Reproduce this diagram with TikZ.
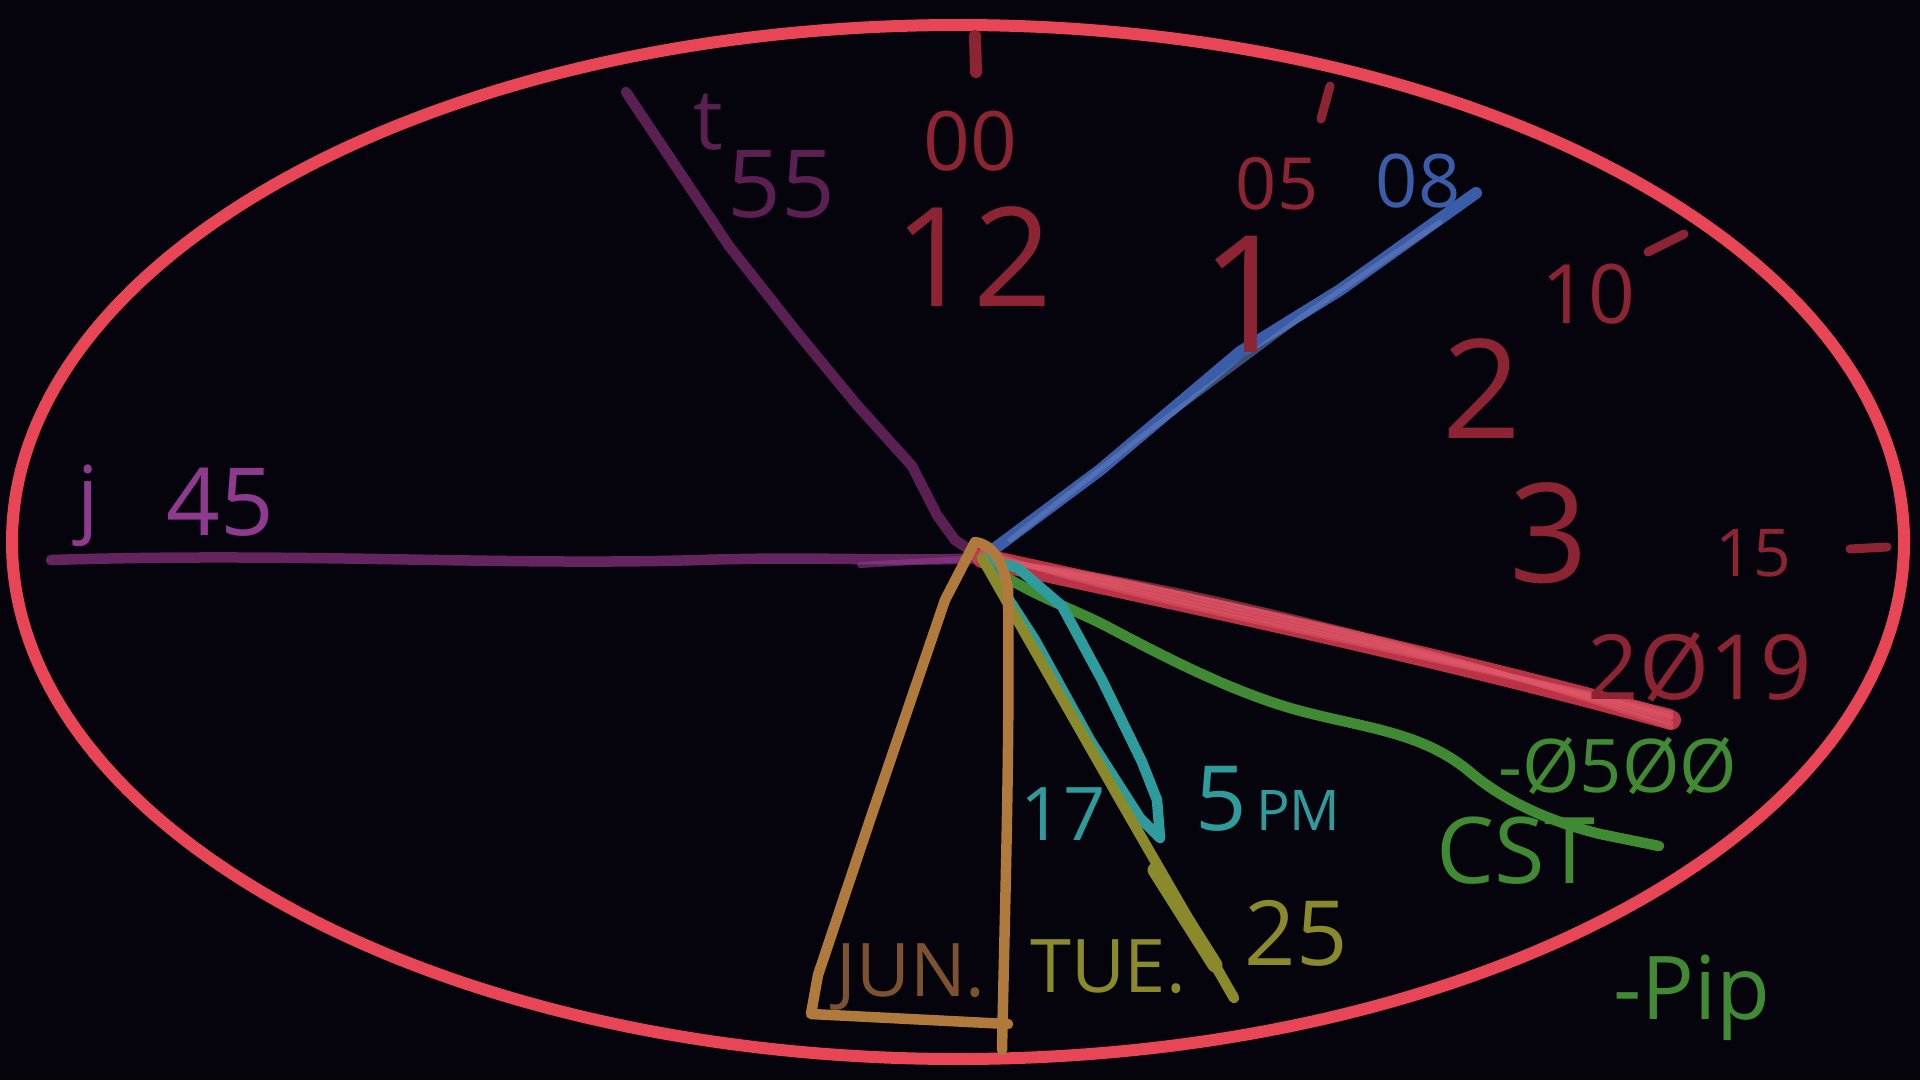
\documentclass[tikz,border=0pt]{standalone}
\usepackage{fontspec}
\setmainfont{Open Sans}
\definecolor{bg}{HTML}{05040C}
\definecolor{ring}{HTML}{E84656}
\definecolor{dred}{HTML}{8C2433}
\definecolor{brush}{HTML}{D93B50}
\definecolor{dpurple}{HTML}{5A2052}
\definecolor{lpurple}{HTML}{8E3A8E}
\definecolor{blueh}{HTML}{3B5CA8}
\definecolor{greenh}{HTML}{3F8A32}
\definecolor{tealh}{HTML}{2E9C9C}
\definecolor{oliveh}{HTML}{8A8A2C}
\definecolor{tanh}{HTML}{B07A3C}
\definecolor{brownt}{HTML}{7C5232}
\tikzset{
  hand/.style={line width=10.5pt, line cap=round, line join=round},
  lbl/.style={inner sep=0pt, anchor=center},
  fs/.style={font=\fontsize{#1}{#1}\selectfont},
}
\begin{document}
\begin{tikzpicture}[x=1pt,y=-1pt]
\fill[bg] (0,0) rectangle (1920,1080);
\useasboundingbox (0,0) rectangle (1920,1080);
% outer ring
\draw[ring, line width=12pt] (958,542) ellipse [x radius=946, y radius=517];
% hub
\coordinate (hub) at (982,558);
% tick marks
\coordinate (tk1a) at (975,36); \coordinate (tk1b) at (976,72);
\coordinate (tk2a) at (1330,86); \coordinate (tk2b) at (1321,119);
\coordinate (tk3a) at (1648,252); \coordinate (tk3b) at (1684,234);
\coordinate (tk4a) at (1850,549); \coordinate (tk4b) at (1887,547);
\draw[dred, hand, line width=12pt] (tk1a) -- (tk1b);
\draw[dred, hand, line width=9pt] (tk2a) -- (tk2b);
\draw[dred, hand, line width=9pt] (tk3a) -- (tk3b);
\draw[dred, hand, line width=9pt] (tk4a) -- (tk4b);
% purple horizontal hand
\coordinate (pl) at (51,560);
\draw[dpurple!80!lpurple, hand] (pl) .. controls (300,552) and (500,566) .. (700,560) .. controls (820,556) and (900,562) .. (hub);
\draw[lpurple, hand, line width=6pt, opacity=0.6] (860,565) -- (hub);
% purple angled hand
\coordinate (pt) at (626,92);
\draw[dpurple, hand] (pt) -- (729,246) -- (796,331) -- (857,405) -- (912,466) -- (937,515) -- (955,540) -- (hub);
% blue hand
\coordinate (bt) at (1476,193);
\draw[blueh, hand, line width=12pt] (hub) -- (1100,470) -- (1240,352) -- (1340,290) -- (bt);
\draw[blueh!80!white, hand, line width=5pt, opacity=0.6] (1010,540) -- (1150,430) -- (1300,318) -- (1440,222);
% red brush hand
\coordinate (rt) at (1671,720);
\draw[brush, hand, line width=20pt, opacity=0.85] (hub) .. controls (1100,585) and (1400,645) .. (rt);
\foreach \a/\b/\op in {-10/-7/0.5,-4/-3/0.6,4/3/0.6,12/6/0.5,18/9/0.4,24/2/0.3}{
  \draw[brush!85!white, hand, line width=5pt, opacity=\op] ([yshift=\a*0.4]hub) .. controls (1100,575+\a) and (1400,642+\b) .. ([yshift=\b]rt);
}
% green hand
\coordinate (gt) at (1659,846);
\draw[greenh, hand] (hub) -- (1004,576) .. controls (1040,598) and (1080,612) .. (1110,628) .. controls (1170,660) and (1230,690) .. (1290,708) .. controls (1360,728) and (1420,730) .. (1470,772) .. controls (1510,806) and (1560,824) .. (1600,834) -- (gt);
% teal loop
\coordinate (tb) at (1160,838);
\draw[tealh, hand] (hub) -- (1035,640) -- (1090,740) -- (1140,818) -- (tb) -- (1157,800) -- (1142,762) -- (1102,680) -- (1062,606) -- (1018,568) -- (hub);
% olive hand
\coordinate (ob) at (1234,998);
\draw[oliveh, hand] (hub) -- (1120,800) -- (ob);
\draw[oliveh, hand, line width=15pt] (1155,870) -- (1215,965);
% tan month box
\coordinate (ta) at (975,542);
\coordinate (tbl) at (811,1014);
\coordinate (tbr) at (1008,1024);
\coordinate (ttr) at (1008,588);
\coordinate (tend) at (1002,1050);
\draw[tanh, hand] (ttr) .. controls (1003,565) and (995,545) .. (ta) -- (945,600) -- (870,820) -- (818,975) -- (tbl) -- (tbr);
\draw[tanh, hand] (ttr) .. controls (1010,750) and (1005,900) .. (tend);
% labels
\node[lbl, dred, fs=138] (n12) at (973,257) {12};
\node[lbl, dred, fs=163] (n1) at (1247,294) {1};
\node[lbl, dred, fs=138] (n2) at (1482,389) {2};
\node[lbl, dred, fs=138] (n3) at (1549,533) {3};
\node[lbl, dred, fs=82] (n00) at (970,141) {00};
\node[lbl, dred, fs=72] (n05) at (1277,184) {05};
\node[lbl, blueh, fs=74] (n08) at (1418,181) {08};
\node[lbl, dred, fs=82] (n10) at (1588,294) {10};
\node[lbl, dred, fs=66] (n15) at (1753,553) {15};
\node[lbl, dred, fs=90] (n2019) at (1700,667) {2Ø19};
\node[lbl, greenh, fs=74] (n0500) at (1618,766) {-Ø5ØØ};
\node[lbl, greenh, fs=92] (ncst) at (1516,851) {CST};
\node[lbl, greenh, fs=88] (npip) at (1692,998) {-Pip};
\node[lbl, oliveh, fs=90] (n25) at (1296,933) {25};
\node[lbl, oliveh, fs=74] (ntue) at (1108,967) {TUE.};
\node[lbl, brownt, fs=74] (njun) at (911,977) {JUN.};
\node[lbl, tealh, fs=74] (n17) at (1063,814) {17};
\node[lbl, tealh, fs=90, anchor=base west] (n5pm) at (1195,830) {5\fontsize{56}{56}\selectfont\,PM};
\node[lbl, lpurple, fs=94] (n45) at (220,502) {45};
\node[lbl, lpurple, fs=84] (nj) at (88,506) {j};
\node[lbl, dpurple, fs=84] (nt) at (708,122) {t};
\node[lbl, dpurple, fs=94] (n55) at (781,184) {55};
\end{tikzpicture}
\end{document}
